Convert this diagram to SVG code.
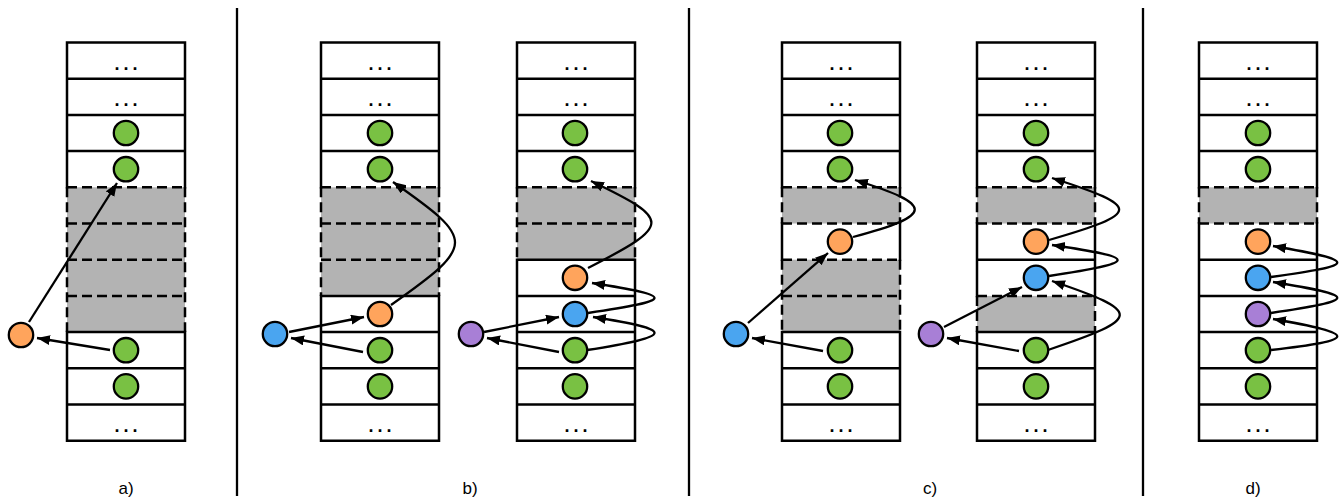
<svg xmlns="http://www.w3.org/2000/svg" width="1341" height="499" viewBox="0 0 1341 499">
<style>
.bg{fill:#ffffff}
.gray{fill:#b3b3b3}
.solid{fill:none;stroke:#000;stroke-width:2.5;stroke-linecap:square}
.dash{fill:none;stroke:#000;stroke-width:2.5;stroke-dasharray:10 5}
.dots{font-family:"Liberation Sans",Arial,sans-serif;font-size:18px;font-weight:bold;letter-spacing:4px;text-anchor:middle;fill:#000}
.lbl{font-family:"Liberation Sans",Arial,sans-serif;font-size:17px;text-anchor:middle;fill:#000}
.g{fill:#79c143;stroke:#000;stroke-width:2.3}
.o{fill:#ffa45c;stroke:#000;stroke-width:2.3}
.b{fill:#4aa5f0;stroke:#000;stroke-width:2.3}
.p{fill:#a87fd6;stroke:#000;stroke-width:2.3}
.sep{stroke:#000;stroke-width:2.3}
.arr{fill:none;stroke:#000;stroke-width:2.3;marker-end:url(#ah)}
</style>
<defs>
<marker id="ah" markerUnits="userSpaceOnUse" markerWidth="14" markerHeight="11" refX="13" refY="5" orient="auto">
<path d="M0,0 L13,5 L0,10 Z" fill="#000"/>
</marker>
</defs>

<g id="separators">
<line class="sep" x1="237" y1="8" x2="237" y2="496"/>
<line class="sep" x1="689" y1="8" x2="689" y2="496"/>
<line class="sep" x1="1143" y1="8" x2="1143" y2="496"/>
</g>

<!-- stack a -->
<g id="stack-a">
<rect class="bg" x="67" y="42.5" width="118" height="398.2"/>
<rect class="gray" x="67" y="187.3" width="118" height="144.8"/>
<path class="solid" d="M67 42.5H185M67 78.7H185M67 114.9H185M67 151.1H185M67 332.1H185M67 368.3H185M67 404.5H185M67 440.7H185M67 42.5V187.3M185 42.5V187.3M67 332.1V440.7M185 332.1V440.7"/>
<path class="dash" d="M67 187.3H185M67 223.5H185M67 259.7H185M67 295.9H185M67 187.3V332.1M185 187.3V332.1"/>
<text class="dots" x="128" y="69.6">...</text>
<text class="dots" x="128" y="105.8">...</text>
<text class="dots" x="128" y="431.6">...</text>
</g>

<!-- stack b1 -->
<g id="stack-b1">
<rect class="bg" x="321" y="42.5" width="118" height="398.2"/>
<rect class="gray" x="321" y="187.3" width="118" height="108.6"/>
<path class="solid" d="M321 42.5H439M321 78.7H439M321 114.9H439M321 151.1H439M321 295.9H439M321 332.1H439M321 368.3H439M321 404.5H439M321 440.7H439M321 42.5V187.3M439 42.5V187.3M321 295.9V440.7M439 295.9V440.7"/>
<path class="dash" d="M321 187.3H439M321 223.5H439M321 259.7H439M321 187.3V295.9M439 187.3V295.9"/>
<text class="dots" x="382" y="69.6">...</text>
<text class="dots" x="382" y="105.8">...</text>
<text class="dots" x="382" y="431.6">...</text>
</g>

<!-- stack b2 -->
<g id="stack-b2">
<rect class="bg" x="517" y="42.5" width="118" height="398.2"/>
<rect class="gray" x="517" y="187.3" width="118" height="72.4"/>
<path class="solid" d="M517 42.5H635M517 78.7H635M517 114.9H635M517 151.1H635M517 259.7H635M517 295.9H635M517 332.1H635M517 368.3H635M517 404.5H635M517 440.7H635M517 42.5V187.3M635 42.5V187.3M517 259.7V440.7M635 259.7V440.7"/>
<path class="dash" d="M517 187.3H635M517 223.5H635M517 187.3V259.7M635 187.3V259.7"/>
<text class="dots" x="578" y="69.6">...</text>
<text class="dots" x="578" y="105.8">...</text>
<text class="dots" x="578" y="431.6">...</text>
</g>

<!-- stack c1 -->
<g id="stack-c1">
<rect class="bg" x="782" y="42.5" width="118" height="398.2"/>
<rect class="gray" x="782" y="187.3" width="118" height="36.2"/>
<rect class="gray" x="782" y="259.7" width="118" height="72.4"/>
<path class="solid" d="M782 42.5H900M782 78.7H900M782 114.9H900M782 151.1H900M782 332.1H900M782 368.3H900M782 404.5H900M782 440.7H900M782 42.5V187.3M900 42.5V187.3M782 223.5V259.7M900 223.5V259.7M782 332.1V440.7M900 332.1V440.7"/>
<path class="dash" d="M782 187.3H900M782 223.5H900M782 259.7H900M782 295.9H900M782 187.3V223.5M900 187.3V223.5M782 259.7V332.1M900 259.7V332.1"/>
<text class="dots" x="843" y="69.6">...</text>
<text class="dots" x="843" y="105.8">...</text>
<text class="dots" x="843" y="431.6">...</text>
</g>

<!-- stack c2 -->
<g id="stack-c2">
<rect class="bg" x="977" y="42.5" width="118" height="398.2"/>
<rect class="gray" x="977" y="187.3" width="118" height="36.2"/>
<rect class="gray" x="977" y="295.9" width="118" height="36.2"/>
<path class="solid" d="M977 42.5H1095M977 78.7H1095M977 114.9H1095M977 151.1H1095M977 259.7H1095M977 332.1H1095M977 368.3H1095M977 404.5H1095M977 440.7H1095M977 42.5V187.3M1095 42.5V187.3M977 223.5V295.9M1095 223.5V295.9M977 332.1V440.7M1095 332.1V440.7"/>
<path class="dash" d="M977 187.3H1095M977 223.5H1095M977 295.9H1095M977 187.3V223.5M1095 187.3V223.5M977 295.9V332.1M1095 295.9V332.1"/>
<text class="dots" x="1038" y="69.6">...</text>
<text class="dots" x="1038" y="105.8">...</text>
<text class="dots" x="1038" y="431.6">...</text>
</g>

<!-- stack d -->
<g id="stack-d">
<rect class="bg" x="1199" y="42.5" width="118" height="398.2"/>
<rect class="gray" x="1199" y="187.3" width="118" height="36.2"/>
<path class="solid" d="M1199 42.5H1317M1199 78.7H1317M1199 114.9H1317M1199 151.1H1317M1199 259.7H1317M1199 295.9H1317M1199 332.1H1317M1199 368.3H1317M1199 404.5H1317M1199 440.7H1317M1199 42.5V187.3M1317 42.5V187.3M1199 223.5V440.7M1317 223.5V440.7"/>
<path class="dash" d="M1199 187.3H1317M1199 223.5H1317M1199 187.3V223.5M1317 187.3V223.5"/>
<text class="dots" x="1260" y="69.6">...</text>
<text class="dots" x="1260" y="105.8">...</text>
<text class="dots" x="1260" y="431.6">...</text>
</g>

<!-- nodes -->
<g id="nodes-a">
<circle id="a-g3" class="g" cx="126" cy="133" r="12.2"/>
<circle id="a-g4" class="g" cx="126" cy="169.2" r="12.2"/>
<circle id="a-g9" class="g" cx="126" cy="350.2" r="12.2"/>
<circle id="a-g10" class="g" cx="126" cy="386.4" r="12.2"/>
<circle id="a-ext-orange" class="o" cx="21" cy="335" r="12.2"/>
</g>
<g id="nodes-b1">
<circle id="b1-g3" class="g" cx="380" cy="133" r="12.2"/>
<circle id="b1-g4" class="g" cx="380" cy="169.2" r="12.2"/>
<circle id="b1-o8" class="o" cx="380" cy="314" r="12.2"/>
<circle id="b1-g9" class="g" cx="380" cy="350.2" r="12.2"/>
<circle id="b1-g10" class="g" cx="380" cy="386.4" r="12.2"/>
<circle id="b1-ext-blue" class="b" cx="275" cy="334" r="12.2"/>
</g>
<g id="nodes-b2">
<circle id="b2-g3" class="g" cx="575" cy="133" r="12.2"/>
<circle id="b2-g4" class="g" cx="575" cy="169.2" r="12.2"/>
<circle id="b2-o7" class="o" cx="575" cy="277.8" r="12.2"/>
<circle id="b2-b8" class="b" cx="575" cy="314" r="12.2"/>
<circle id="b2-g9" class="g" cx="575" cy="350.2" r="12.2"/>
<circle id="b2-g10" class="g" cx="575" cy="386.4" r="12.2"/>
<circle id="b2-ext-purple" class="p" cx="471" cy="334" r="12.2"/>
</g>
<g id="nodes-c1">
<circle id="c1-g3" class="g" cx="840" cy="133" r="12.2"/>
<circle id="c1-g4" class="g" cx="840" cy="169.2" r="12.2"/>
<circle id="c1-o6" class="o" cx="840" cy="241.6" r="12.2"/>
<circle id="c1-g9" class="g" cx="840" cy="350.2" r="12.2"/>
<circle id="c1-g10" class="g" cx="840" cy="386.4" r="12.2"/>
<circle id="c1-ext-blue" class="b" cx="736" cy="334" r="12.2"/>
</g>
<g id="nodes-c2">
<circle id="c2-g3" class="g" cx="1036" cy="133" r="12.2"/>
<circle id="c2-g4" class="g" cx="1036" cy="169.2" r="12.2"/>
<circle id="c2-o6" class="o" cx="1036" cy="241.6" r="12.2"/>
<circle id="c2-b7" class="b" cx="1036" cy="277.8" r="12.2"/>
<circle id="c2-g9" class="g" cx="1036" cy="350.2" r="12.2"/>
<circle id="c2-g10" class="g" cx="1036" cy="386.4" r="12.2"/>
<circle id="c2-ext-purple" class="p" cx="931" cy="334" r="12.2"/>
</g>
<g id="nodes-d">
<circle id="d-g3" class="g" cx="1258" cy="133" r="12.2"/>
<circle id="d-g4" class="g" cx="1258" cy="169.2" r="12.2"/>
<circle id="d-o6" class="o" cx="1258" cy="241.6" r="12.2"/>
<circle id="d-b7" class="b" cx="1258" cy="277.8" r="12.2"/>
<circle id="d-p8" class="p" cx="1258" cy="314" r="12.2"/>
<circle id="d-g9" class="g" cx="1258" cy="350.2" r="12.2"/>
<circle id="d-g10" class="g" cx="1258" cy="386.4" r="12.2"/>
</g>

<!-- connectors -->
<g id="connectors">
<path class="arr" d="M110 350 L37 338"/>
<path class="arr" d="M29 322 L117 183"/>

<path class="arr" d="M289 332 L364 317"/>
<path class="arr" d="M363 352 L291 338"/>
<path class="arr" d="M391 305 C476 245 476 240 393 182"/>

<path class="arr" d="M484 332 L559 317"/>
<path class="arr" d="M559 352 L487 338"/>
<path class="arr" d="M588 268 C672 225 672 220 591 181"/>
<path class="arr" d="M588 313 C676 300 676 296 592 283"/>
<path class="arr" d="M587 350 C676 336 676 330 593 317"/>

<path class="arr" d="M823 351 L752 338"/>
<path class="arr" d="M748 323 L828 253"/>
<path class="arr" d="M853 237 C935 215 935 205 855 180"/>

<path class="arr" d="M1019 351 L947 338"/>
<path class="arr" d="M944 327 L1022 287"/>
<path class="arr" d="M1049 240 C1142 213 1142 207 1052 178"/>
<path class="arr" d="M1049 276 C1140 262 1140 258 1052 245"/>
<path class="arr" d="M1048 350 C1143 318 1143 312 1052 281"/>

<path class="arr" d="M1271 277 C1359 265 1359 261 1273 246"/>
<path class="arr" d="M1271 313 C1359 300 1359 296 1273 282"/>
<path class="arr" d="M1271 350 C1359 340 1359 334 1273 319"/>
</g>

<g id="labels">
<text class="lbl" x="126" y="494">a)</text>
<text class="lbl" x="470" y="494">b)</text>
<text class="lbl" x="930" y="494">c)</text>
<text class="lbl" x="1253" y="494">d)</text>
</g>
</svg>
